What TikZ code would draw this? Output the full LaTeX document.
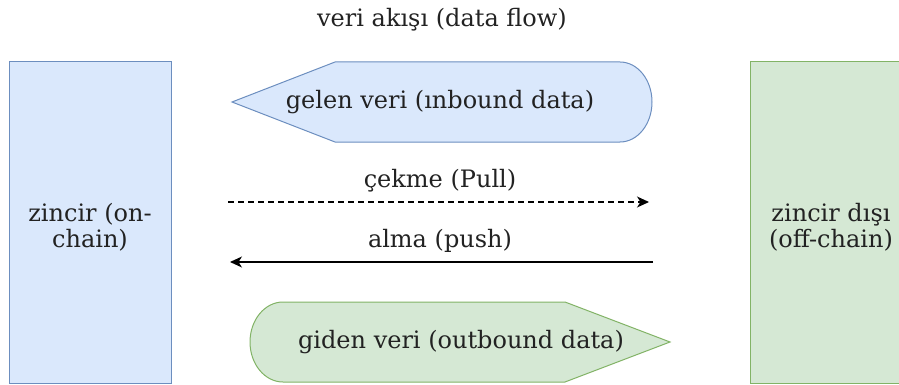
\documentclass[tikz,border=0pt]{standalone}
\usepackage{fontspec}
\setmainfont{DejaVu Serif}
\usetikzlibrary{arrows.meta}
\definecolor{bluefill}{HTML}{DAE8FC}
\definecolor{bluedraw}{HTML}{6C8EBF}
\definecolor{greenfill}{HTML}{D5E8D4}
\definecolor{greendraw}{HTML}{82B366}
\definecolor{ink}{HTML}{222222}
\tikzset{
  lbl/.style={text=ink, font=\fontsize{24}{26}\selectfont, align=center, inner sep=0pt},
  bluebox/.style={fill=bluefill, draw=bluedraw, line width=1pt},
  greenbox/.style={fill=greenfill, draw=greendraw, line width=1pt},
  flow/.style={line width=1.2pt, draw=black, -{Stealth[length=12pt,width=11pt,inset=3.5pt]}},
}
\begin{document}
\begin{tikzpicture}[x=1pt,y=-1pt]
\useasboundingbox (0,0) rectangle (899,385);

% chain boxes
\draw[bluebox] (9,62) rectangle (171,383);
\node[lbl] (onchain) at (90,227) {zincir (on-\\chain)};
\draw[greenbox] (750,62) rectangle (912,383);
\node[lbl] (offchain) at (831,227) {zincir dışı\\(off-chain)};

% title
\node[lbl] (title) at (442,20) {veri akışı (data flow)};

% inbound display shape (y axis points down, so -90 is the top)
\draw[bluebox] (335,62) -- (620,62) arc[start angle=-90, end angle=90, x radius=32, y radius=40]
  -- (335,142) -- (232,102) -- cycle;
\node[lbl] (inbound) at (440,102) {gelen veri (ınbound data)};

% outbound display shape
\draw[greenbox] (565,302) -- (283,302) arc[start angle=-90, end angle=-270, x radius=33, y radius=40]
  -- (565,382) -- (670,342) -- cycle;
\node[lbl] (outbound) at (461,342) {giden veri (outbound data)};

% pull / push connectors
\coordinate (pullA) at (228,202);
\coordinate (pullB) at (649,202);
\coordinate (pushA) at (653,262);
\coordinate (pushB) at (230,262);
\draw[flow, dash pattern=on 6pt off 4pt] (pullA) -- (pullB);
\draw[flow] (pushA) -- (pushB);
\node[lbl] (pull) at (440,181) {çekme (Pull)};
\node[lbl] (push) at (440,241) {alma (push)};
\end{tikzpicture}
\end{document}
